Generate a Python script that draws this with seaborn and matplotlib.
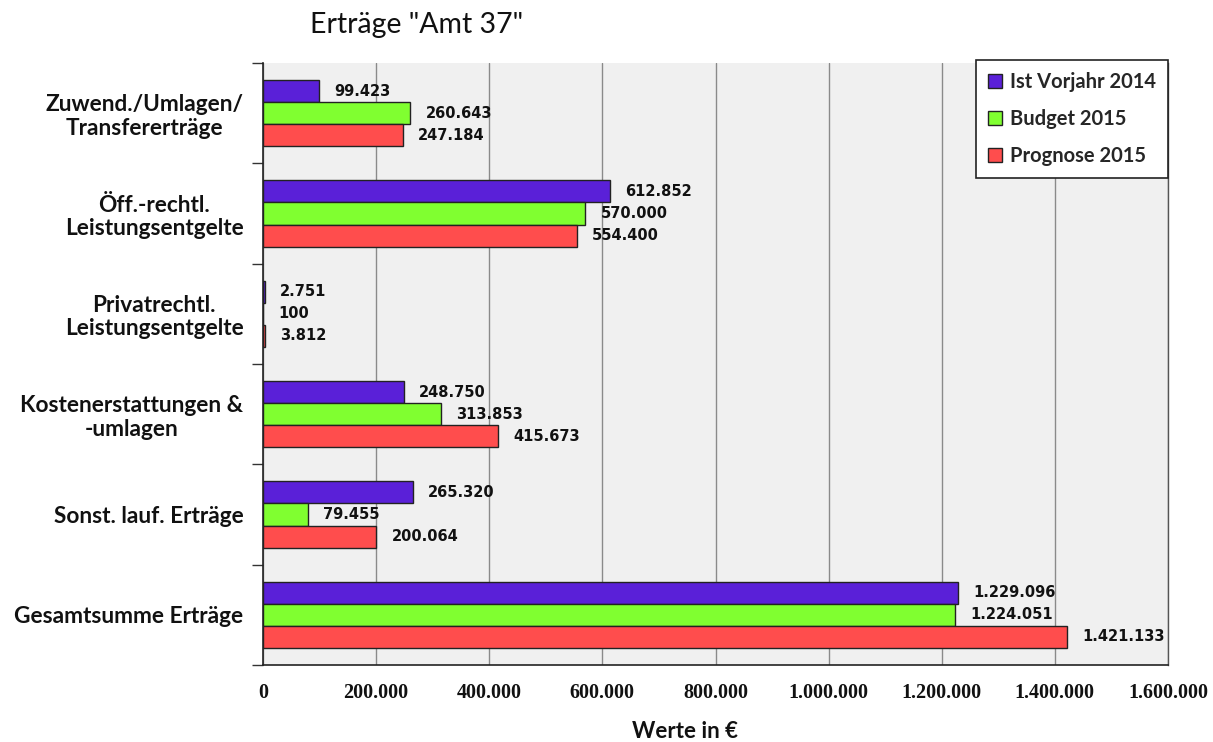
import matplotlib
matplotlib.use("Agg")
import matplotlib.pyplot as plt
import seaborn as sns
import pandas as pd
import numpy as np

categories = [
    "Zuwend./Umlagen/\nTransfererträge",
    "Öff.-rechtl.\nLeistungsentgelte",
    "Privatrechtl.\nLeistungsentgelte",
    "Kostenerstattungen &\n-umlagen",
    "Sonst. lauf. Erträge",
    "Gesamtsumme Erträge",
]
series_names = ["Ist Vorjahr 2014", "Budget 2015", "Prognose 2015"]
ist_2014 = [99423, 612852, 2751, 248750, 265320, 1229096]
budget_2015 = [260643, 570000, 100, 313853, 79455, 1224051]
prognose_2015 = [247184, 554400, 3812, 415673, 200064, 1421133]
x_ticks = [0, 200000, 400000, 600000, 800000, 1000000, 1200000, 1400000, 1600000]
colors = ["#5a20d8", "#80ff30", "#ff4d4d"]

rows = []
for name, vals in zip(series_names, [ist_2014, budget_2015, prognose_2015]):
    for c, v in zip(categories, vals):
        rows.append({"Kategorie": c, "Serie": name, "Wert": v})
df = pd.DataFrame(rows)

sns.set_theme(style="white")
plt.rcParams["font.family"] = ["Lato", "DejaVu Sans"]

fig = plt.figure(figsize=(12.13, 7.42), dpi=100)
ax = fig.add_axes([263/1213, 1-665/742, (1168-263)/1213, (665-63)/742])
ax.set_facecolor("#f0f0f0")

sns.barplot(data=df, y="Kategorie", x="Wert", hue="Serie", order=categories,
            hue_order=series_names, palette=colors, saturation=1, orient="h", width=0.66,
            edgecolor="#222222", linewidth=1.0, ax=ax, legend=True, zorder=3)

def de_fmt(v):
    return f"{int(round(v)):,}".replace(",", ".")

for cont in ax.containers:
    ax.bar_label(cont, labels=[de_fmt(b.get_width()) for b in cont],
                 padding=11, fontsize=10.5, fontweight="bold",
                 family="DejaVu Sans", color="#111111")

ax.set_xlim(0, 1600000)
ax.set_ylim(5.5, -0.5)
ax.set_xticks(x_ticks, labels=[de_fmt(v) for v in x_ticks],
              fontsize=14.5, fontfamily="Liberation Serif", fontweight="bold", color="#111111")
ax.grid(axis="x", color="#8a8a8a", linewidth=1.0, zorder=0)
ax.set_axisbelow(True)
ax.tick_params(axis="x", length=0, pad=13)

ax.set_yticks(range(len(categories)), labels=categories, fontsize=16.3,
              fontweight="bold", color="#111111")
for lbl in ax.get_yticklabels():
    lbl.set_multialignment("center")
    lbl.set_linespacing(1.15)
ax.set_yticks(np.arange(-0.5, 6.0, 1.0), minor=True)
ax.tick_params(axis="y", which="major", length=0, pad=14)
ax.tick_params(axis="y", which="minor", length=8, width=1, color="#333333", left=True)

for s in ["left", "bottom"]:
    ax.spines[s].set_color("#222222")
    ax.spines[s].set_linewidth(1.2)
ax.spines["right"].set_color("#555555")
ax.spines["right"].set_linewidth(1.0)
ax.spines["top"].set_visible(False)

ax.set_ylabel("")
ax.set_xlabel("Werte in €", fontsize=16, fontweight="bold", color="#111111")
ax.xaxis.set_label_coords((685-263)/905, -(732-665)/602)
ax.xaxis.label.set_va("center")

handles, labels = ax.get_legend_handles_labels()
leg = ax.legend(handles, labels, loc="upper right", bbox_to_anchor=(1.0, 1.005),
                borderaxespad=0, frameon=True, fancybox=False, framealpha=1,
                edgecolor="#222222", labelspacing=0.85, handlelength=0.7,
                handleheight=0.7, handletextpad=0.4, borderpad=0.6,
                prop={"weight": "bold", "size": 14.5})
leg.get_frame().set_linewidth(1.2)

fig.text(310/1213, 1-25/742, 'Erträge "Amt 37"', fontsize=20.5, ha="left", va="center",
         color="#111111")

fig.savefig("out.png", dpi=100, facecolor="white")
